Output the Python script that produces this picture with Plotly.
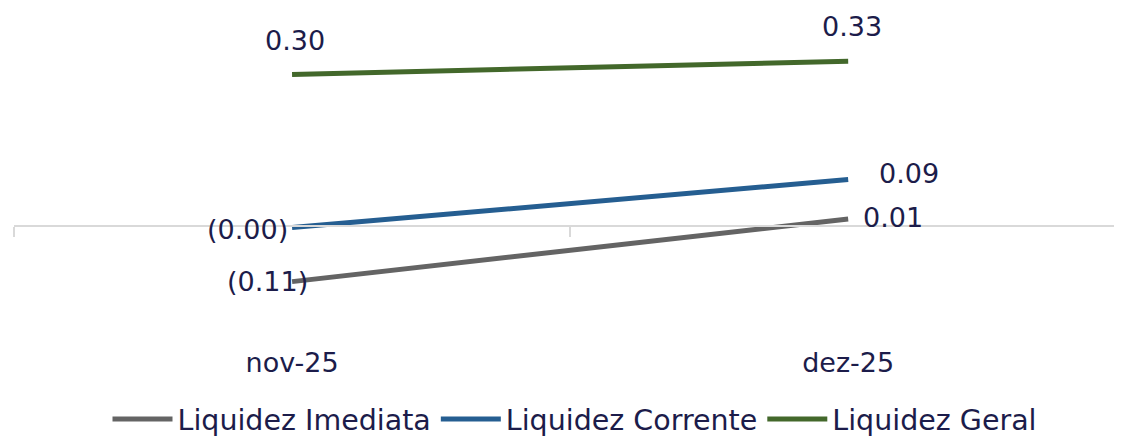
import plotly.graph_objects as go

categories = ["nov-25", "dez-25"]
imediata = [-0.11, 0.014]
corrente = [-0.003, 0.092]
geral = [0.30, 0.326]

series_names = ["Liquidez Imediata", "Liquidez Corrente", "Liquidez Geral"]
colors = ["#646464", "#255E91", "#43682B"]
text_color = "#1C1C4A"
FONT = "DejaVu Sans"
FS = 27


def fmt(v):
    return f"({abs(v):.2f})" if v < 0 else f"{v:.2f}"


y_min, y_max = -0.2176, 0.4314

fig = go.Figure()
series = [imediata, corrente, geral]
for name, vals, col in zip(series_names, series, colors):
    fig.add_trace(go.Scatter(
        x=categories, y=vals, name=name, mode="lines",
        line=dict(color=col, width=5),
    ))

# label placement (anchor, xshift, yshift) per series / point
label_style = [
    [("right", 18, 0), ("left", 13, 1)],
    [("right", -2, -2), ("left", 29, 6)],
    [("center", 3, 34), ("center", 4, 35)],
]
annotations = []
for vals, styles in zip(series, label_style):
    for cat, v, (anc, xs, ys) in zip(categories, vals, styles):
        annotations.append(dict(
            x=cat, y=v, xref="x", yref="y", text=fmt(v), showarrow=False,
            xanchor=anc, yanchor="middle", xshift=xs, yshift=ys,
            font=dict(family=FONT, size=FS, color=text_color),
        ))

# axis line at zero with boundary ticks
fig.add_trace(go.Scatter(x=categories, y=[None, None], xaxis="x2", showlegend=False, hoverinfo="skip"))

zero_pos = (0 - y_min) / (y_max - y_min)

fig.update_layout(
    width=1106, height=437,
    margin=dict(l=6, r=0, t=0, b=97),
    plot_bgcolor="white", paper_bgcolor="white",
    font=dict(family=FONT, size=FS, color=text_color),
    annotations=annotations,
    xaxis=dict(type="category", range=[-0.5, 1.478], showline=False, showgrid=False,
               zeroline=False, ticks="", tickfont=dict(size=FS, color=text_color),
               ticklabelstandoff=8),
    xaxis2=dict(type="category", range=[-0.5, 1.478], overlaying="x", anchor="free",
                position=zero_pos, side="bottom", showline=True, linecolor="#D9D9D9",
                linewidth=1.5, ticks="outside", tickson="boundaries", ticklen=10,
                tickcolor="#D9D9D9", tickwidth=1.5, showticklabels=False, showgrid=False),
    yaxis=dict(range=[y_min, y_max], visible=False, showgrid=False, zeroline=False),
    legend=dict(orientation="h", x=0.51, xanchor="center", y=-0.256, yanchor="middle",
                font=dict(size=28.5, color=text_color), itemwidth=60),
    showlegend=True,
)

fig.write_html("out.html")
